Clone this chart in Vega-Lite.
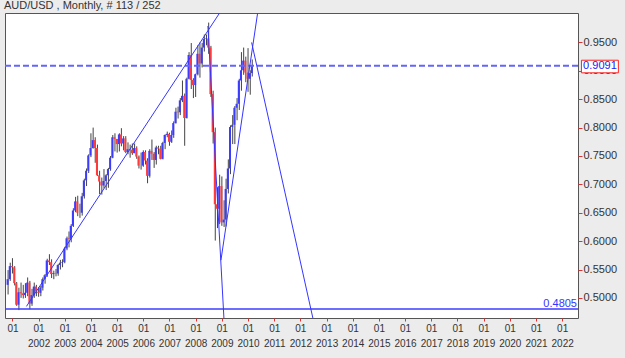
{
  "$schema": "https://vega.github.io/schema/vega-lite/v6.json",
  "autosize": "none",
  "width": 573,
  "height": 305,
  "padding": {"left": 5, "top": 13, "right": 47, "bottom": 40},
  "background": "#ececec",
  "title": {"text": "AUD/USD , Monthly, # 113 / 252", "anchor": "start", "frame": "group", "offset": 2, "dx": -1, "font": "Liberation Sans", "fontSize": 11, "fontWeight": "normal", "color": "#333333"},
  "config": {
    "view": {"fill": "white", "stroke": "#555555", "strokeWidth": 1},
    "axisY": {"labelFont": "Liberation Sans", "labelFontSize": 11, "labelColor": "#333333", "labelPadding": 1, "labelOverlap": false, "labelBound": false, "labelFlush": false, "tickColor": "#e03030", "tickSize": 4, "domain": false, "grid": false, "format": ".4f", "orient": "right"}
  },
  "datasets": {
    "one": [{}],
    "ohlc": [
      {"d":"2000-11-01","o":0.523,"h":0.549,"l":0.506,"c":0.533},
      {"d":"2000-12-01","o":0.533,"h":0.562,"l":0.530,"c":0.556},
      {"d":"2001-01-01","o":0.556,"h":0.570,"l":0.543,"c":0.554},
      {"d":"2001-02-01","o":0.554,"h":0.556,"l":0.522,"c":0.526},
      {"d":"2001-03-01","o":0.526,"h":0.528,"l":0.486,"c":0.488},
      {"d":"2001-04-01","o":0.488,"h":0.518,"l":0.4785,"c":0.510},
      {"d":"2001-05-01","o":0.510,"h":0.527,"l":0.500,"c":0.508},
      {"d":"2001-06-01","o":0.508,"h":0.523,"l":0.499,"c":0.505},
      {"d":"2001-07-01","o":0.505,"h":0.526,"l":0.500,"c":0.509},
      {"d":"2001-08-01","o":0.509,"h":0.536,"l":0.503,"c":0.527},
      {"d":"2001-09-01","o":0.527,"h":0.530,"l":0.480,"c":0.490},
      {"d":"2001-10-01","o":0.490,"h":0.516,"l":0.486,"c":0.505},
      {"d":"2001-11-01","o":0.505,"h":0.527,"l":0.500,"c":0.520},
      {"d":"2001-12-01","o":0.520,"h":0.523,"l":0.503,"c":0.511},
      {"d":"2002-01-01","o":0.511,"h":0.519,"l":0.502,"c":0.509},
      {"d":"2002-02-01","o":0.509,"h":0.521,"l":0.503,"c":0.518},
      {"d":"2002-03-01","o":0.518,"h":0.536,"l":0.513,"c":0.533},
      {"d":"2002-04-01","o":0.533,"h":0.542,"l":0.525,"c":0.540},
      {"d":"2002-05-01","o":0.540,"h":0.569,"l":0.537,"c":0.566},
      {"d":"2002-06-01","o":0.566,"h":0.577,"l":0.558,"c":0.563},
      {"d":"2002-07-01","o":0.563,"h":0.568,"l":0.535,"c":0.542},
      {"d":"2002-08-01","o":0.542,"h":0.548,"l":0.533,"c":0.544},
      {"d":"2002-09-01","o":0.544,"h":0.551,"l":0.538,"c":0.543},
      {"d":"2002-10-01","o":0.543,"h":0.560,"l":0.539,"c":0.558},
      {"d":"2002-11-01","o":0.558,"h":0.567,"l":0.550,"c":0.562},
      {"d":"2002-12-01","o":0.562,"h":0.568,"l":0.554,"c":0.563},
      {"d":"2003-01-01","o":0.563,"h":0.590,"l":0.561,"c":0.587},
      {"d":"2003-02-01","o":0.587,"h":0.608,"l":0.584,"c":0.605},
      {"d":"2003-03-01","o":0.605,"h":0.617,"l":0.589,"c":0.604},
      {"d":"2003-04-01","o":0.604,"h":0.630,"l":0.598,"c":0.627},
      {"d":"2003-05-01","o":0.627,"h":0.658,"l":0.625,"c":0.654},
      {"d":"2003-06-01","o":0.654,"h":0.678,"l":0.651,"c":0.670},
      {"d":"2003-07-01","o":0.670,"h":0.680,"l":0.644,"c":0.650},
      {"d":"2003-08-01","o":0.650,"h":0.666,"l":0.641,"c":0.650},
      {"d":"2003-09-01","o":0.650,"h":0.685,"l":0.645,"c":0.679},
      {"d":"2003-10-01","o":0.679,"h":0.710,"l":0.675,"c":0.707},
      {"d":"2003-11-01","o":0.707,"h":0.728,"l":0.697,"c":0.724},
      {"d":"2003-12-01","o":0.724,"h":0.753,"l":0.720,"c":0.751},
      {"d":"2004-01-01","o":0.751,"h":0.790,"l":0.748,"c":0.764},
      {"d":"2004-02-01","o":0.764,"h":0.800,"l":0.763,"c":0.778},
      {"d":"2004-03-01","o":0.778,"h":0.783,"l":0.738,"c":0.764},
      {"d":"2004-04-01","o":0.764,"h":0.770,"l":0.715,"c":0.716},
      {"d":"2004-05-01","o":0.716,"h":0.724,"l":0.683,"c":0.705},
      {"d":"2004-06-01","o":0.705,"h":0.712,"l":0.682,"c":0.698},
      {"d":"2004-07-01","o":0.698,"h":0.727,"l":0.693,"c":0.706},
      {"d":"2004-08-01","o":0.706,"h":0.718,"l":0.690,"c":0.716},
      {"d":"2004-09-01","o":0.716,"h":0.729,"l":0.694,"c":0.727},
      {"d":"2004-10-01","o":0.727,"h":0.750,"l":0.724,"c":0.747},
      {"d":"2004-11-01","o":0.747,"h":0.787,"l":0.746,"c":0.783},
      {"d":"2004-12-01","o":0.783,"h":0.790,"l":0.758,"c":0.780},
      {"d":"2005-01-01","o":0.780,"h":0.780,"l":0.756,"c":0.771},
      {"d":"2005-02-01","o":0.771,"h":0.790,"l":0.758,"c":0.788},
      {"d":"2005-03-01","o":0.788,"h":0.799,"l":0.767,"c":0.772},
      {"d":"2005-04-01","o":0.772,"h":0.785,"l":0.760,"c":0.781},
      {"d":"2005-05-01","o":0.781,"h":0.785,"l":0.755,"c":0.757},
      {"d":"2005-06-01","o":0.757,"h":0.774,"l":0.753,"c":0.762},
      {"d":"2005-07-01","o":0.762,"h":0.770,"l":0.747,"c":0.761},
      {"d":"2005-08-01","o":0.761,"h":0.772,"l":0.752,"c":0.755},
      {"d":"2005-09-01","o":0.755,"h":0.772,"l":0.755,"c":0.764},
      {"d":"2005-10-01","o":0.764,"h":0.767,"l":0.745,"c":0.749},
      {"d":"2005-11-01","o":0.749,"h":0.751,"l":0.728,"c":0.733},
      {"d":"2005-12-01","o":0.733,"h":0.756,"l":0.726,"c":0.733},
      {"d":"2006-01-01","o":0.733,"h":0.760,"l":0.731,"c":0.757},
      {"d":"2006-02-01","o":0.757,"h":0.760,"l":0.735,"c":0.742},
      {"d":"2006-03-01","o":0.742,"h":0.746,"l":0.702,"c":0.715},
      {"d":"2006-04-01","o":0.715,"h":0.762,"l":0.712,"c":0.759},
      {"d":"2006-05-01","o":0.759,"h":0.779,"l":0.743,"c":0.754},
      {"d":"2006-06-01","o":0.754,"h":0.757,"l":0.729,"c":0.743},
      {"d":"2006-07-01","o":0.743,"h":0.768,"l":0.735,"c":0.765},
      {"d":"2006-08-01","o":0.765,"h":0.768,"l":0.753,"c":0.763},
      {"d":"2006-09-01","o":0.763,"h":0.768,"l":0.744,"c":0.745},
      {"d":"2006-10-01","o":0.745,"h":0.775,"l":0.744,"c":0.773},
      {"d":"2006-11-01","o":0.773,"h":0.788,"l":0.762,"c":0.787},
      {"d":"2006-12-01","o":0.787,"h":0.793,"l":0.783,"c":0.789},
      {"d":"2007-01-01","o":0.789,"h":0.791,"l":0.768,"c":0.775},
      {"d":"2007-02-01","o":0.775,"h":0.795,"l":0.773,"c":0.787},
      {"d":"2007-03-01","o":0.787,"h":0.811,"l":0.782,"c":0.808},
      {"d":"2007-04-01","o":0.808,"h":0.835,"l":0.807,"c":0.828},
      {"d":"2007-05-01","o":0.828,"h":0.837,"l":0.816,"c":0.827},
      {"d":"2007-06-01","o":0.827,"h":0.852,"l":0.822,"c":0.848},
      {"d":"2007-07-01","o":0.848,"h":0.883,"l":0.845,"c":0.856},
      {"d":"2007-08-01","o":0.856,"h":0.860,"l":0.768,"c":0.817},
      {"d":"2007-09-01","o":0.817,"h":0.888,"l":0.816,"c":0.886},
      {"d":"2007-10-01","o":0.886,"h":0.933,"l":0.885,"c":0.928},
      {"d":"2007-11-01","o":0.928,"h":0.949,"l":0.868,"c":0.884},
      {"d":"2007-12-01","o":0.884,"h":0.887,"l":0.852,"c":0.875},
      {"d":"2008-01-01","o":0.875,"h":0.895,"l":0.854,"c":0.894},
      {"d":"2008-02-01","o":0.894,"h":0.945,"l":0.892,"c":0.930},
      {"d":"2008-03-01","o":0.930,"h":0.950,"l":0.888,"c":0.913},
      {"d":"2008-04-01","o":0.913,"h":0.949,"l":0.906,"c":0.941},
      {"d":"2008-05-01","o":0.941,"h":0.964,"l":0.934,"c":0.956},
      {"d":"2008-06-01","o":0.956,"h":0.964,"l":0.945,"c":0.957},
      {"d":"2008-07-01","o":0.957,"h":0.985,"l":0.930,"c":0.941},
      {"d":"2008-08-01","o":0.941,"h":0.944,"l":0.854,"c":0.859},
      {"d":"2008-09-01","o":0.859,"h":0.865,"l":0.772,"c":0.792},
      {"d":"2008-10-01","o":0.792,"h":0.800,"l":0.601,"c":0.665},
      {"d":"2008-11-01","o":0.665,"h":0.695,"l":0.623,"c":0.657},
      {"d":"2008-12-01","o":0.657,"h":0.717,"l":0.630,"c":0.697},
      {"d":"2009-01-01","o":0.697,"h":0.714,"l":0.627,"c":0.633},
      {"d":"2009-02-01","o":0.633,"h":0.672,"l":0.625,"c":0.638},
      {"d":"2009-03-01","o":0.638,"h":0.710,"l":0.626,"c":0.692},
      {"d":"2009-04-01","o":0.692,"h":0.744,"l":0.684,"c":0.728},
      {"d":"2009-05-01","o":0.728,"h":0.804,"l":0.718,"c":0.801},
      {"d":"2009-06-01","o":0.801,"h":0.822,"l":0.771,"c":0.805},
      {"d":"2009-07-01","o":0.805,"h":0.838,"l":0.771,"c":0.835},
      {"d":"2009-08-01","o":0.835,"h":0.852,"l":0.813,"c":0.842},
      {"d":"2009-09-01","o":0.842,"h":0.886,"l":0.831,"c":0.883},
      {"d":"2009-10-01","o":0.883,"h":0.933,"l":0.865,"c":0.901},
      {"d":"2009-11-01","o":0.901,"h":0.941,"l":0.893,"c":0.918},
      {"d":"2009-12-01","o":0.918,"h":0.925,"l":0.880,"c":0.897},
      {"d":"2010-01-01","o":0.897,"h":0.940,"l":0.863,"c":0.886},
      {"d":"2010-02-01","o":0.886,"h":0.901,"l":0.858,"c":0.896},
      {"d":"2010-03-01","o":0.896,"h":0.920,"l":0.890,"c":0.9091}
    ],
    "lines": [
      {"id":"a","d":"2001-07-15","p":0.485},
      {"id":"a","d":"2008-12-06","p":1.003},
      {"id":"b","d":"2008-06-20","p":0.979},
      {"id":"b","d":"2009-01-30","p":0.4638},
      {"id":"c","d":"2008-12-19","p":0.5665},
      {"id":"c","d":"2010-05-17","p":1.0036},
      {"id":"d","d":"2010-02-20","p":0.95},
      {"id":"d","d":"2012-06-25","p":0.4638}
    ]
  },
  "layer": [
    {
      "data": {"name": "ohlc"},
      "mark": {"type": "rule", "color": "#444444", "strokeWidth": 1},
      "encoding": {
        "x": {"field": "d", "type": "temporal", "title": null,
          "scale": {"type": "utc", "domain": [{"year": 2000, "month": 9, "date": 19, "utc": true}, {"year": 2022, "month": 8, "date": 10, "utc": true}]},
          "axis": {"orient": "bottom", "tickCount": {"interval": "year", "step": 1},
            "labelExpr": "utcyear(datum.value) == 2001 ? ['01', ''] : ['01', utcFormat(datum.value, '%Y')]",
            "labelFont": "Liberation Sans", "labelFontSize": 10, "labelColor": "#333333", "labelLineHeight": 15,
            "labelPadding": 2, "labelBaseline": "top", "labelOverlap": false, "labelBound": false, "labelFlush": false,
            "tickColor": "#e03030", "tickSize": 3, "domain": false, "grid": false}},
        "y": {"field": "l", "type": "quantitative", "title": null,
          "scale": {"domain": [0.4646, 1.0019], "zero": false, "nice": false},
          "axis": {"values": [0.5, 0.55, 0.6, 0.65, 0.7, 0.75, 0.8, 0.85, 0.9, 0.95]}},
        "y2": {"field": "h"}
      }
    },
    {
      "data": {"name": "ohlc"},
      "mark": {"type": "rule", "strokeWidth": 2, "xOffset": -0.5},
      "encoding": {
        "x": {"field": "d", "type": "temporal", "title": null},
        "y": {"field": "o", "type": "quantitative", "title": null, "axis": {"values": [0.5, 0.55, 0.6, 0.65, 0.7, 0.75, 0.8, 0.85, 0.9, 0.95]}},
        "y2": {"field": "c"},
        "color": {"condition": {"test": "datum.c >= datum.o", "value": "#3c3cff"}, "value": "#ff3c3c"}
      }
    },
    {
      "data": {"name": "one"},
      "mark": {"type": "rule", "color": "#6464ff", "strokeWidth": 2, "strokeDash": [6, 3]},
      "encoding": {"y": {"datum": 0.9091, "type": "quantitative", "title": null, "axis": {"values": [0.5, 0.55, 0.6, 0.65, 0.7, 0.75, 0.8, 0.85, 0.9, 0.95]}}}
    },
    {
      "data": {"name": "one"},
      "mark": {"type": "rule", "color": "#3c3cff", "strokeWidth": 1.5},
      "encoding": {"y": {"datum": 0.4805, "type": "quantitative", "title": null, "axis": {"values": [0.5, 0.55, 0.6, 0.65, 0.7, 0.75, 0.8, 0.85, 0.9, 0.95]}}}
    },
    {
      "data": {"name": "lines"},
      "mark": {"type": "line", "color": "#3535ff", "strokeWidth": 1, "clip": true},
      "encoding": {
        "x": {"field": "d", "type": "temporal", "title": null},
        "y": {"field": "p", "type": "quantitative", "title": null, "axis": {"values": [0.5, 0.55, 0.6, 0.65, 0.7, 0.75, 0.8, 0.85, 0.9, 0.95]}},
        "detail": {"field": "id"}
      }
    },
    {
      "data": {"name": "one"},
      "mark": {"type": "text", "text": "0.4805", "align": "right", "baseline": "bottom", "dx": -1, "dy": 0, "font": "Liberation Sans", "fontSize": 11, "color": "#3535ff"},
      "encoding": {
        "x": {"datum": {"year": 2022, "month": 8, "date": 10, "utc": true}, "type": "temporal", "title": null},
        "y": {"datum": 0.4805, "type": "quantitative", "title": null, "axis": {"values": [0.5, 0.55, 0.6, 0.65, 0.7, 0.75, 0.8, 0.85, 0.9, 0.95]}}
      }
    },
    {
      "data": {"name": "one"},
      "mark": {"type": "rect", "fill": "white", "stroke": "#ff2020", "strokeWidth": 1},
      "encoding": {
        "x": {"datum": {"year": 2022, "month": 9, "date": 27, "utc": true}, "type": "temporal", "title": null},
        "x2": {"datum": {"year": 2024, "month": 2, "date": 24, "utc": true}},
        "y": {"datum": 0.9187, "type": "quantitative", "title": null, "axis": {"values": [0.5, 0.55, 0.6, 0.65, 0.7, 0.75, 0.8, 0.85, 0.9, 0.95]}},
        "y2": {"datum": 0.8965}
      }
    },
    {
      "data": {"name": "one"},
      "mark": {"type": "text", "text": "0.9091", "align": "center", "baseline": "middle", "font": "Liberation Sans", "fontSize": 11, "color": "#2020ff"},
      "encoding": {
        "x": {"datum": {"year": 2023, "month": 6, "date": 12, "utc": true}, "type": "temporal", "title": null},
        "y": {"datum": 0.9091, "type": "quantitative", "title": null, "axis": {"values": [0.5, 0.55, 0.6, 0.65, 0.7, 0.75, 0.8, 0.85, 0.9, 0.95]}}
      }
    }
  ]
}
